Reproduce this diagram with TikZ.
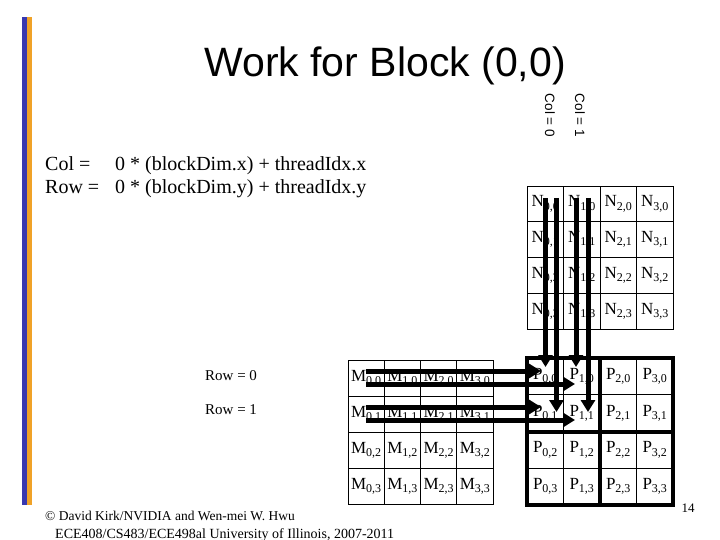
\documentclass[tikz,border=0pt]{standalone}
\usepackage{fontspec}
\setmainfont{Liberation Serif}
\newfontfamily\arialf{Liberation Sans}
\usetikzlibrary{arrows.meta}
\definecolor{barblue}{RGB}{56,56,176}
\definecolor{barorange}{RGB}{240,162,40}
\newcommand\sbs[1]{\raisebox{-0.4ex}{\fontsize{12}{12}\selectfont #1}}
\tikzset{
  cell/.style={draw, line width=0.8pt, minimum width=36.5pt, minimum height=36pt, inner sep=0pt, font=\fontsize{17}{17}\selectfont},
  flow/.style={line width=5pt, -{Triangle[length=12pt,width=14pt]}},
  thickgrid/.style={line width=4pt},
  lbl/.style={inner sep=0pt}
}
\begin{document}
\begin{tikzpicture}[x=1pt,y=-1pt]
\useasboundingbox (0,0) rectangle (720,540);
\fill[white] (0,0) rectangle (720,540);
% side bars
\fill[barblue] (22,17) rectangle (26.5,505);
\fill[barorange] (27,17) rectangle (31.5,505);
% title
\node[lbl, anchor=base, font=\arialf\fontsize{41}{41}\selectfont] (title) at (385,77) {Work for Block (0,0)};
% formulas
\node[lbl, anchor=base west, font=\fontsize{20}{20}\selectfont] (colname) at (45,171) {Col =};
\node[lbl, anchor=base west, font=\fontsize{20}{20}\selectfont] (colexpr) at (115,171) {0 * (blockDim.x) + threadIdx.x};
\node[lbl, anchor=base west, font=\fontsize{20}{20}\selectfont] (rowname) at (45,194) {Row =};
\node[lbl, anchor=base west, font=\fontsize{20}{20}\selectfont] (rowexpr) at (115,194) {0 * (blockDim.y) + threadIdx.y};
% column labels
\node[lbl, rotate=-90, font=\arialf\fontsize{13.5}{13.5}\selectfont] (col0) at (550,115.5) {Col = 0};
\node[lbl, rotate=-90, font=\arialf\fontsize{13.5}{13.5}\selectfont] (col1) at (580,115.5) {Col = 1};
% row labels
\node[lbl, anchor=base west, font=\fontsize{15}{15}\selectfont] (row0) at (205,380) {Row = 0};
\node[lbl, anchor=base west, font=\fontsize{15}{15}\selectfont] (row1) at (205,414) {Row = 1};
% grids
\foreach \i in {0,...,3}{
  \foreach \j in {0,...,3}{
    \node[cell, minimum height=35.75pt] (N\i\j) at ({527+36.5*(\i+0.5)},{186+35.75*(\j+0.5)}) {N\sbs{\i,\j}};
    \node[cell, minimum width=36.25pt] (M\i\j) at ({348+36.25*(\i+0.5)},{360+36*(\j+0.5)}) {M\sbs{\i,\j}};
    \node[cell, minimum height=36.75pt] (P\i\j) at ({527+36.5*(\i+0.5)},{358+36.75*(\j+0.5)}) {P\sbs{\i,\j}};
  }
}
\draw[thickgrid] (P00.north west) rectangle (P33.south east);
\draw[thickgrid] (P10.north east) -- (P13.south east);
\draw[thickgrid] (P01.south west) -- (P31.south east);
% arrow coordinates
\coordinate (v1s) at (545.5,198); \coordinate (v1e) at (545.5,367);
\coordinate (v2s) at (556.5,198); \coordinate (v2e) at (556.5,412);
\coordinate (v3s) at (576,198);   \coordinate (v3e) at (576,367);
\coordinate (v4s) at (588,198);   \coordinate (v4e) at (588,412);
\coordinate (h1s) at (366,371); \coordinate (h1e) at (541,371);
\coordinate (h2s) at (366,384); \coordinate (h2e) at (575,384);
\coordinate (h3s) at (366,407); \coordinate (h3e) at (541,407);
\coordinate (h4s) at (366,420); \coordinate (h4e) at (575,420);
\draw[flow] (v1s) -- (v1e);
\draw[flow] (v2s) -- (v2e);
\draw[flow] (v3s) -- (v3e);
\draw[flow] (v4s) -- (v4e);
\draw[flow] (h1s) -- (h1e);
\draw[flow] (h2s) -- (h2e);
\draw[flow] (h3s) -- (h3e);
\draw[flow] (h4s) -- (h4e);
% footer
\node[lbl, anchor=base west, font=\fontsize{13.5}{13.5}\selectfont] (copy1) at (45,520) {© David Kirk/NVIDIA and Wen-mei W. Hwu};
\node[lbl, anchor=base west, font=\fontsize{14}{14}\selectfont] (copy2) at (55,538) {ECE408/CS483/ECE498al University of Illinois, 2007-2011};
\node[lbl, anchor=base, font=\fontsize{13}{13}\selectfont] (pagenum) at (688,512) {14};
\end{tikzpicture}
\end{document}
